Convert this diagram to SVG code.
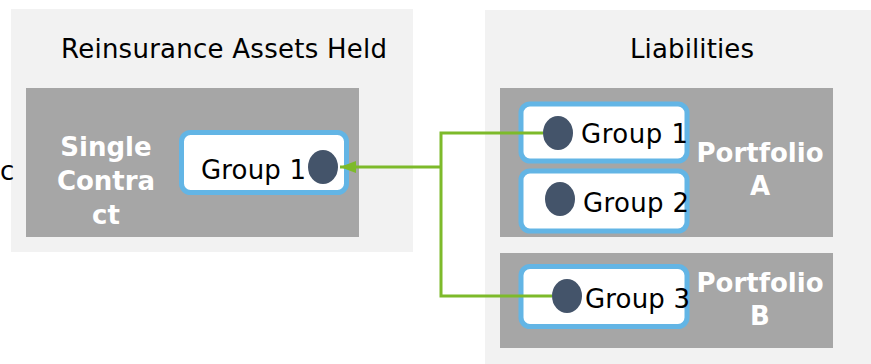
<svg xmlns="http://www.w3.org/2000/svg" width="871" height="364" viewBox="0 0 871 364">
<style>
.panel{fill:#F2F2F2}
.gray{fill:#A6A6A6}
.grp{fill:#FFFFFF;stroke:#63B5E5;stroke-width:5}
.dot{fill:#44546A}
.t{font-family:"DejaVu Sans","Liberation Sans",sans-serif;font-size:26px;fill:#000}
.w{font-family:"DejaVu Sans","Liberation Sans",sans-serif;font-size:26px;font-weight:bold;fill:#FFFFFF;text-anchor:middle}
.c{fill:none;stroke:#7DBA2A;stroke-width:3}
</style>
<defs>
<marker id="ah" markerUnits="userSpaceOnUse" markerWidth="16" markerHeight="12" refX="16" refY="6" orient="auto">
<path d="M0,0 L16,6 L0,12 z" fill="#7DBA2A"/>
</marker>
</defs>
<rect width="871" height="364" fill="#FFFFFF"/>
<g id="assets-panel">
<rect class="panel" x="11" y="9" width="402" height="243"/>
<text class="t" x="61" y="58" textLength="326">Reinsurance Assets Held</text>
</g>
<g id="liabilities-panel">
<rect class="panel" x="485" y="10" width="386" height="354"/>
<text class="t" x="630" y="58" textLength="124">Liabilities</text>
</g>
<text class="t" x="0" y="180">c</text>
<g id="single-contract">
<rect class="gray" x="26" y="88" width="333" height="149"/>
<text class="w" x="106" y="156">Single</text>
<text class="w" x="106" y="190">Contra</text>
<text class="w" x="106" y="224">ct</text>
</g>
<g id="portfolio-a">
<rect class="gray" x="500" y="88" width="333" height="149"/>
<text class="w" x="760" y="162">Portfolio</text>
<text class="w" x="760" y="195">A</text>
</g>
<g id="portfolio-b">
<rect class="gray" x="500" y="253" width="333" height="95"/>
<text class="w" x="760" y="292">Portfolio</text>
<text class="w" x="760" y="325">B</text>
</g>
<g id="left-group-1">
<rect class="grp" x="181.5" y="132.5" width="165" height="60" rx="9"/>
<text class="t" x="201" y="179" textLength="105">Group 1</text>
<ellipse class="dot" cx="323" cy="167" rx="15" ry="17"/>
</g>
<g id="right-group-1">
<rect class="grp" x="521" y="104" width="166" height="57" rx="9"/>
<text class="t" x="581" y="143" textLength="107">Group 1</text>
<ellipse class="dot" cx="558" cy="133" rx="15" ry="17"/>
</g>
<g id="right-group-2">
<rect class="grp" x="521" y="171" width="166" height="60" rx="9"/>
<text class="t" x="583" y="212" textLength="106">Group 2</text>
<ellipse class="dot" cx="560" cy="199" rx="15" ry="17"/>
</g>
<g id="right-group-3">
<rect class="grp" x="521" y="266.5" width="166" height="60" rx="9"/>
<text class="t" x="585" y="308" textLength="105">Group 3</text>
<ellipse class="dot" cx="567" cy="296" rx="15" ry="17"/>
</g>
<g id="connectors">
<polyline class="c" points="543,133 441,133 441,296 552,296"/>
<line class="c" x1="441" y1="167" x2="340" y2="167" marker-end="url(#ah)"/>
</g>
</svg>
